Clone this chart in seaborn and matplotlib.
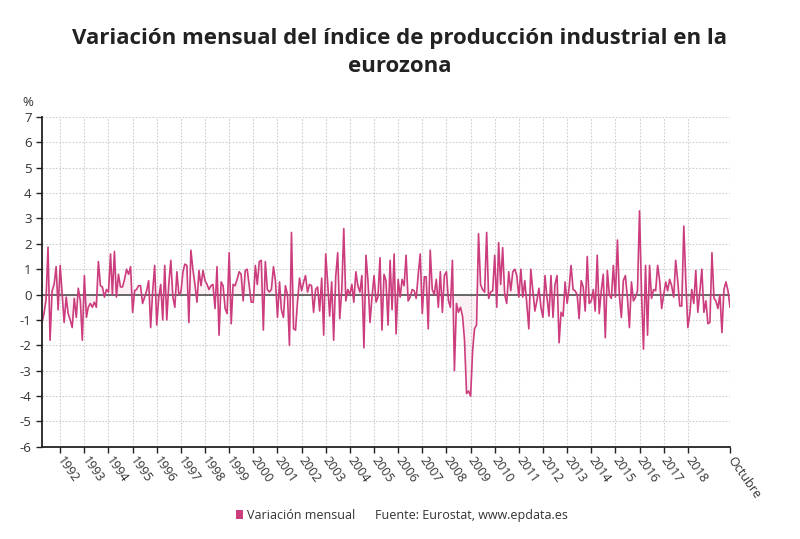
import matplotlib

matplotlib.use("Agg")

import matplotlib.dates as mdates
import matplotlib.pyplot as plt
import numpy as np
import pandas as pd
import seaborn as sns
from matplotlib.patches import Patch

TITLE = "Variación mensual del índice de producción industrial en la\neurozona"
SERIES_LABEL = "Variación mensual"
SOURCE = "Fuente: Eurostat, www.epdata.es"
LINE_COLOR = "#cc3d7e"

# monthly change (%), ending October 2019
variacion = [
    -1.1, -0.75, -0.2, 1.87, -1.8, 0.15, 0.4, 1.1, -0.6, 1.15, 0.0, -1.1,
    -0.1, -0.75, -1.0, -1.3, -0.15, -0.9, 0.25, -0.25, -1.8, 0.75, -0.9, -0.5,
    -0.35, -0.5, -0.3, -0.5, 1.3, 0.35, 0.3, -0.1, 0.2, 0.1, 1.6, 0.0,
    1.7, -0.1, 0.8, 0.3, 0.3, 0.6, 1.0, 0.8, 1.1, -0.7, 0.15,
    0.2, 0.35, 0.35, -0.35, -0.1, 0.15, 0.55, -1.3, 0.15, 1.15, -1.2, -0.1,
    0.4, -1.0, 1.15, -1.0, 0.4, 1.35, -0.1, -0.5, 0.9, 0.0, 0.1, 0.9,
    1.2, 1.15, -1.1, 1.75, 1.0, 0.4, -0.3, 0.95, 0.35, 0.95, 0.55, 0.4,
    0.2, 0.35, 0.4, -0.55, 1.1, -1.6, 0.5, 0.35, -0.55, -0.75, 1.65, -1.15, 0.4,
    0.35, 0.6, 0.9, 0.8, -0.25, 0.95, 1.0, 0.35, -0.3, -0.3, 1.15, 0.4,
    1.3, 1.35, -1.4, 1.3, 0.2, 0.1, 0.2, 1.1, 0.55, -0.9, 0.5, -0.6,
    -0.9, 0.35, 0.0, -2.0, 2.45, -1.35, -1.4, -0.25, 0.65, 0.15, 0.5, 0.75,
    0.1, 0.4, 0.35, -0.7, 0.2, 0.3, -0.65, 0.65, -1.6, 1.6, 0.4, -0.85, 0.5,
    -1.8, 0.7, 1.65, -0.95, 0.2, 2.6, -0.25, 0.2, 0.0, 0.4, -0.3, 0.9,
    0.35, 0.1, 0.75, -2.1, 1.55, 0.55, -1.1, -0.1, 0.75, -0.3, -0.1, 1.45,
    -1.4, 0.8, 0.55, -1.2, 1.35, -0.6, 1.6, -1.55, 0.6, -0.1, 0.6, 0.35,
    1.55, -0.25, -0.1, 0.2, 0.15, -0.15, 0.8, 1.6, -0.75, 0.7, 0.7, -1.35, 1.75,
    0.2, 0.0, 0.6, -0.5, 0.9, -0.7, 0.75, 0.9, -0.25, -0.5, 1.35, -3.0,
    -0.35, -0.7, -0.5, -0.85, -1.8, -3.9, -3.8, -4.0, -2.2, -1.35, -1.2, 2.4,
    0.4, 0.2, 0.1, 2.45, -0.15, 0.1, 0.15, 1.55, -0.5, 2.05, 0.4, 1.85,
    0.0, -0.35, 0.9, 0.15, 0.9, 1.0, 0.75, -0.1, 1.0, -0.1, 0.55, -0.35, -1.35,
    1.0, 0.15, -0.65, -0.25, 0.25, -0.5, -0.9, 0.75, -0.1, -0.85, 0.75, -0.9,
    0.4, 0.75, -1.9, -0.7, -0.85, 0.5, -0.35, 0.3, 1.15, 0.2, 0.15, 0.0,
    -0.95, 0.55, 0.3, -0.65, 1.5, -0.35, -0.25, 0.2, -0.65, 1.55, -0.75, 0.15,
    0.8, -1.7, 0.95, 0.0, -0.15, 1.15, -0.1, 2.15, 0.0, -0.9, 0.55, 0.75, -0.1,
    -1.3, 0.5, -0.25, -0.1, 0.15, 3.3, 0.0, -2.15, 1.15, -1.6, 1.15, -0.15,
    0.2, 0.15, 1.15, 0.55, -0.55, 0.0, 0.5, 0.15, 0.6, 0.35, -0.1, 1.35,
    0.55, -0.45, -0.45, 2.7, 0.55, -1.3, -0.75, 0.2, -0.35, 0.95, -0.7, 0.1,
    1.0, -0.7, -0.25, -1.15, -1.1, 1.65, -0.15, -0.25, -0.55, 0.0, -1.5, 0.2,
    0.5, 0.15, -0.5,
]
ultimo_mes = "2019-10-01"
years = list(range(1992, 2019))
year_labels = [str(y) for y in years]
end_label = "Octubre"
y_ticks = list(range(-6, 8))


def main() -> None:
    sns.set_theme(style="white")
    plt.rcParams["font.family"] = ["Open Sans", "DejaVu Sans"]

    fechas = pd.date_range(end=ultimo_mes, periods=len(variacion), freq="MS")
    df = pd.DataFrame({"fecha": fechas, "valor": variacion})

    fig = plt.figure(figsize=(8, 5.39), dpi=100)
    ax = fig.add_axes([0.0525, 0.171, 0.86, 0.612])

    ax.fill_between(df["fecha"], df["valor"], 0, color=LINE_COLOR, alpha=0.07, linewidth=0)
    sns.lineplot(data=df, x="fecha", y="valor", ax=ax, color=LINE_COLOR, linewidth=1.2)
    ax.axhline(0, color="#444444", linewidth=1.1, zorder=1)

    ax.set_xlim(df["fecha"].iloc[0], df["fecha"].iloc[-1])
    ax.set_ylim(-6, 7)
    ax.set_yticks(y_ticks)
    ax.set_yticklabels([str(v) for v in y_ticks])

    tick_dates = [pd.Timestamp(f"{y}-01-01") for y in years] + [df["fecha"].iloc[-1]]
    ax.set_xticks(mdates.date2num(tick_dates))
    ax.set_xticklabels(year_labels + [end_label], rotation=-55, ha="left", va="center",
                       rotation_mode="anchor")
    ax.set_xlabel("")
    ax.set_ylabel("")

    ax.grid(True, color="#cfcfcf", linestyle=(0, (1.5, 1.5)), linewidth=0.8)
    ax.set_axisbelow(True)
    for side in ["top", "right"]:
        ax.spines[side].set_visible(False)
    for side in ["left", "bottom"]:
        ax.spines[side].set_color("#222222")
        ax.spines[side].set_linestyle((0, (1, 1)))
        ax.spines[side].set_linewidth(1.3)

    ax.tick_params(axis="both", which="major", length=4, width=1, color="#222222",
                   labelcolor="#333333", labelsize=9.5, bottom=True, left=True)
    ax.tick_params(axis="x", pad=4, labelsize=9)

    ax.text(-0.012, 1.025, "%", transform=ax.transAxes, fontsize=9.5, color="#333333",
            ha="right", va="bottom")

    fig.suptitle(TITLE, x=0.5, y=0.948, fontsize=16, fontweight="bold", color="#222222",
                 linespacing=1.45)

    handle = Patch(facecolor=LINE_COLOR, edgecolor="none")
    fig.legend([handle], [SERIES_LABEL], loc="center left", bbox_to_anchor=(0.295, 0.044),
               frameon=False, fontsize=9, handlelength=0.55, handleheight=0.8,
               handletextpad=0.3, labelcolor="#333333", borderaxespad=0, borderpad=0)
    fig.text(0.469, 0.044, SOURCE, fontsize=9, color="#333333", ha="left", va="center")

    fig.savefig("out.png", dpi=100, facecolor="white")
    plt.close(fig)


if __name__ == "__main__":
    main()
